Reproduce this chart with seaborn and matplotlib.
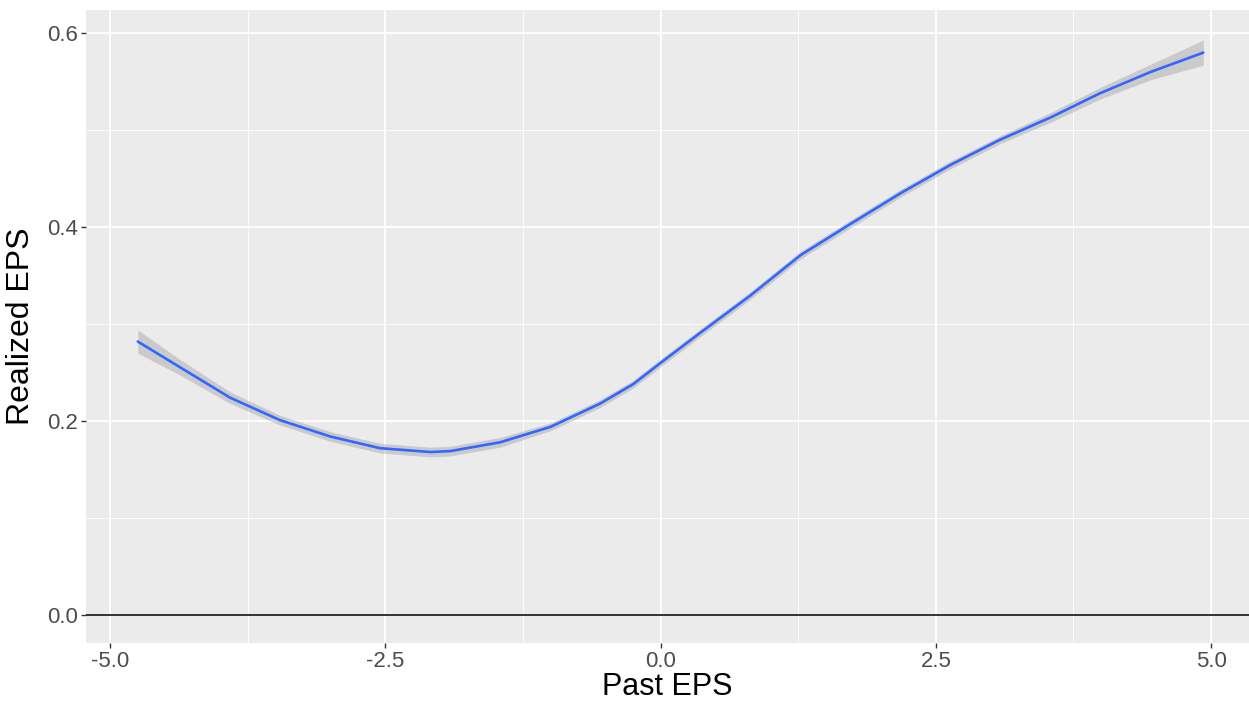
import matplotlib
matplotlib.use("Agg")
import matplotlib.pyplot as plt
import pandas as pd
import seaborn as sns
from matplotlib.ticker import MultipleLocator

# values
past_eps = [-4.75, -4.36, -3.91, -3.46, -3.00, -2.55, -2.09, -1.91, -1.46, -1.00,
            -0.55, -0.25, 0.00, 0.36, 0.81, 1.27, 1.72, 2.18, 2.63, 3.08,
            3.54, 3.99, 4.45, 4.93]
realized_eps = [0.282, 0.255, 0.224, 0.201, 0.184, 0.172, 0.168, 0.169, 0.178, 0.194,
                0.218, 0.238, 0.260, 0.291, 0.329, 0.371, 0.403, 0.435, 0.464, 0.490,
                0.513, 0.538, 0.560, 0.580]
band_halfwidth = [0.012, 0.008, 0.006, 0.005, 0.005, 0.005, 0.005, 0.005, 0.005, 0.004,
                  0.004, 0.004, 0.004, 0.004, 0.004, 0.004, 0.004, 0.004, 0.004, 0.004,
                  0.005, 0.006, 0.008, 0.013]

df = pd.DataFrame({"Past EPS": past_eps, "Realized EPS": realized_eps,
                   "hw": band_halfwidth})
df["lo"] = df["Realized EPS"] - df["hw"]
df["hi"] = df["Realized EPS"] + df["hw"]

sns.set_theme(style="darkgrid", rc={
    "axes.facecolor": "#EBEBEB",
    "grid.color": "white",
    "axes.edgecolor": "#EBEBEB",
})
plt.rcParams["font.family"] = ["Liberation Sans", "DejaVu Sans"]

fig = plt.figure(figsize=(12.49, 7.02), dpi=100)
ax = fig.add_axes([0.0689, 0.084, 0.9311, 0.9018])

ax.fill_between(df["Past EPS"], df["lo"], df["hi"], color="#999999", alpha=0.4,
                linewidth=0, zorder=2)
sns.lineplot(data=df, x="Past EPS", y="Realized EPS", color="#3366FF", linewidth=1.9,
             ax=ax, zorder=3)
ax.axhline(0, color="#333333", linewidth=1.4, zorder=2)

ax.set_xlim(-5.22, 5.345)
ax.set_ylim(-0.029, 0.624)
ax.xaxis.set_minor_locator(MultipleLocator(1.25))
ax.yaxis.set_minor_locator(MultipleLocator(0.1))
ax.set_xticks([-5.0, -2.5, 0.0, 2.5, 5.0])
ax.set_xticklabels(["-5.0", "-2.5", "0.0", "2.5", "5.0"])
ax.set_yticks([0.0, 0.2, 0.4, 0.6])
ax.set_yticklabels(["0.0", "0.2", "0.4", "0.6"])
ax.grid(which="major", color="white", linewidth=1.3)
ax.grid(which="minor", color="white", linewidth=0.6)
ax.set_axisbelow(True)
for s in ax.spines.values():
    s.set_visible(False)

ax.tick_params(axis="both", which="major", length=3.5, width=1, color="#333333",
               labelsize=16, labelcolor="#4D4D4D", pad=2, bottom=True, left=True)
ax.tick_params(which="minor", length=0)
ax.set_xlabel("Past EPS", fontsize=22, color="black", labelpad=0)
ax.set_ylabel("Realized EPS", fontsize=23, color="black", labelpad=8)

fig.savefig("out.png", dpi=100)
